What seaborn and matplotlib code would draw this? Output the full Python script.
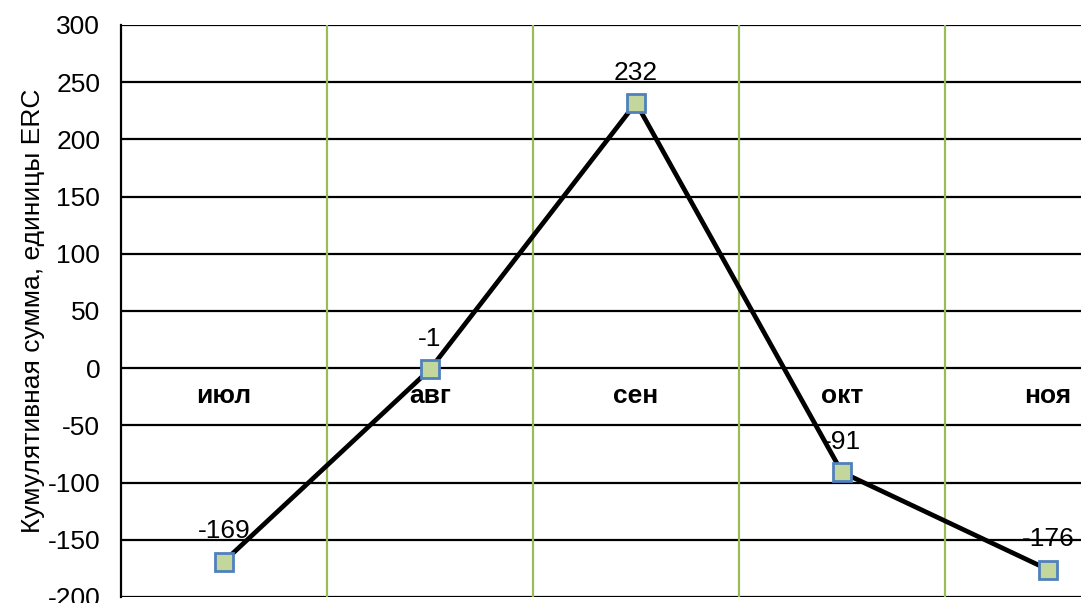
import numpy as np
import pandas as pd
import matplotlib
matplotlib.use("Agg")
import matplotlib.pyplot as plt
import seaborn as sns

# Данные
months = ["июл", "авг", "сен", "окт", "ноя"]
cum_sum = [-169, -1, 232, -91, -176]
y_ticks = list(range(-200, 301, 50))

df = pd.DataFrame({"pos": np.arange(len(months)), "value": cum_sum})

sns.set_style("white")
plt.rcParams["font.family"] = ["Liberation Sans", "DejaVu Sans"]
plt.rcParams["axes.unicode_minus"] = False
plt.rcParams["text.color"] = "black"
plt.rcParams["axes.labelcolor"] = "black"
plt.rcParams["ytick.color"] = "black"

fig = plt.figure(figsize=(10.81, 6.03), dpi=100)
# область графика шире картинки: справа она обрезана, как в оригинале
ax = fig.add_axes([121 / 1081, 1 - 597 / 603, 1030 / 1081, 572 / 603])

sns.lineplot(data=df, x="pos", y="value", ax=ax, color="black", linewidth=3.4,
             marker="s", markersize=13, markerfacecolor="#c3d69b",
             markeredgecolor="#4f81bd", markeredgewidth=2, zorder=5)

ax.set_xlim(-0.5, len(months) - 0.5)
ax.set_ylim(-200, 300)

# горизонтальная сетка
ax.set_yticks(y_ticks)
for yv in y_ticks:
    ax.axhline(yv, color="black", linewidth=1.6, zorder=1)
# вертикальные линии между категориями
for xv in np.arange(0.5, len(months) - 0.5, 1):
    ax.axvline(xv, color="#9bbb59", linewidth=1.6, zorder=1)

for s in ["top", "right", "bottom"]:
    ax.spines[s].set_visible(False)
ax.spines["left"].set_color("black")
ax.spines["left"].set_linewidth(1.6)

ax.tick_params(axis="y", direction="out", length=7, width=1.5, color="black",
               labelsize=19, pad=8)
ax.set_xticks([])
ax.set_xlabel("")
ax.set_ylabel("Кумулятивная сумма, единицы ERC", fontsize=19, labelpad=2)

# подписи месяцев у нулевой линии
for i, m in enumerate(months):
    ax.text(i, -14, m, ha="center", va="top", fontsize=19, fontweight="bold",
            zorder=6)

# подписи значений
for i, v in enumerate(cum_sum):
    ax.annotate(str(v), (i, v), xytext=(0, 13), textcoords="offset points",
                ha="center", va="bottom", fontsize=19, zorder=6)

fig.savefig("out.png", dpi=100)
